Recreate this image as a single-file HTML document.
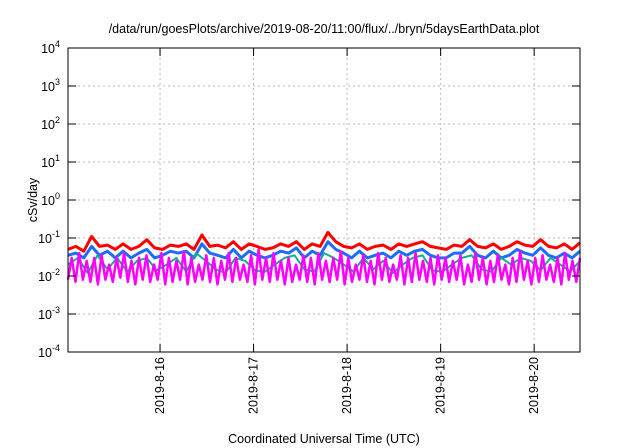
<!DOCTYPE html>
<html><head><meta charset="utf-8"><style>
body{margin:0;background:#fff;}
svg{display:block;font-family:"Liberation Sans",sans-serif;}
</style></head><body>
<svg id="chart" width="640" height="448" viewBox="0 0 640 448">
<text x="324" y="33" font-size="12.5" text-anchor="middle">/data/run/goesPlots/archive/2019-08-20/11:00/flux/../bryn/5daysEarthData.plot</text>
<g id="grid"></g>
<g id="series"></g>
<rect x="68" y="48" width="512" height="304" fill="none" stroke="#000" stroke-width="1"/>
<g id="axes"></g>
<text transform="translate(37,200) rotate(-90)" font-size="12.5" text-anchor="middle">cSv/day</text>
<text x="324" y="443" font-size="12.5" text-anchor="middle">Coordinated Universal Time (UTC)</text>
</svg>
<script>
const yTickExps=[-4,-3,-2,-1,0,1,2,3,4];
const xTickDays=[1,2,3,4,5];
const xTickLabels=["2019-8-16","2019-8-17","2019-8-18","2019-8-19","2019-8-20"];
const redVals=[0.05,0.06,0.045,0.11,0.06,0.065,0.05,0.07,0.05,0.06,0.09,0.055,0.05,0.065,0.06,0.07,0.05,0.12,0.06,0.065,0.055,0.08,0.05,0.07,0.06,0.05,0.055,0.07,0.06,0.08,0.05,0.07,0.06,0.14,0.08,0.06,0.055,0.07,0.05,0.06,0.065,0.05,0.07,0.06,0.07,0.08,0.06,0.055,0.05,0.065,0.06,0.09,0.06,0.055,0.07,0.05,0.06,0.08,0.065,0.06,0.09,0.06,0.055,0.07,0.05,0.075];
const blueVals=[0.035,0.04,0.03,0.06,0.035,0.045,0.03,0.045,0.03,0.04,0.05,0.03,0.035,0.045,0.04,0.045,0.03,0.07,0.04,0.035,0.03,0.05,0.03,0.045,0.035,0.03,0.035,0.045,0.04,0.055,0.03,0.045,0.035,0.08,0.05,0.04,0.03,0.045,0.03,0.035,0.04,0.03,0.045,0.035,0.045,0.05,0.035,0.03,0.03,0.04,0.04,0.06,0.035,0.03,0.045,0.03,0.035,0.05,0.04,0.035,0.055,0.035,0.03,0.04,0.03,0.045];
const tealVals=[0.02,0.03,0.012,0.035,0.015,0.03,0.013,0.025,0.03,0.014,0.02,0.03,0.013,0.04,0.025,0.015,0.012,0.03,0.025,0.014,0.013,0.02,0.03,0.035,0.015,0.013,0.04,0.03,0.02,0.013,0.03,0.015,0.025,0.012,0.02,0.03,0.035,0.014,0.013,0.02,0.03,0.035,0.015,0.013,0.03,0.02,0.03,0.025,0.014,0.03,0.02,0.013,0.025];
const magentaVals=[0.008,0.03,0.007,0.04,0.008,0.025,0.007,0.03,0.006,0.035,0.008,0.02,0.007,0.03,0.009,0.04,0.007,0.025,0.006,0.03,0.008,0.035,0.007,0.02,0.008,0.04,0.006,0.03,0.007,0.025,0.008,0.045,0.006,0.03,0.007,0.02,0.008,0.035,0.007,0.03,0.006,0.025,0.008,0.04,0.007,0.03,0.008,0.02,0.007,0.035,0.006,0.05,0.008,0.03,0.007,0.04,0.008,0.025,0.006,0.03,0.007,0.02,0.008,0.035,0.007,0.03,0.006,0.04,0.008,0.025,0.007,0.03,0.008,0.045,0.006,0.03,0.007,0.02,0.008,0.035,0.007,0.025,0.006,0.04,0.008,0.03,0.007,0.02,0.008,0.035,0.006,0.03,0.007,0.04,0.008,0.025,0.007,0.03,0.006,0.035,0.008,0.03,0.007,0.025,0.008,0.035,0.006,0.02,0.007,0.04,0.008,0.03,0.006,0.025,0.007,0.035,0.008,0.02,0.006,0.03,0.007,0.045,0.008,0.025,0.006,0.03,0.007,0.035,0.008,0.02,0.007,0.03,0.006,0.04,0.008,0.025,0.007,0.03];
const X0=68,X1=580,Y0=48,Y1=352,DMIN=0.016,DMAX=5.49;
const xs=d=>X0+(d-DMIN)/(DMAX-DMIN)*(X1-X0);
const ys=v=>Y1-(Math.log10(v)+4)/8*(Y1-Y0);
const NS="http://www.w3.org/2000/svg";
const mk=(p,t,a)=>{const e=document.createElementNS(NS,t);for(const k in a)e.setAttribute(k,a[k]);p.appendChild(e);return e;};
const grid=document.getElementById('grid'),axes=document.getElementById('axes'),ser=document.getElementById('series');
yTickExps.forEach(ex=>{const y=ys(Math.pow(10,ex));
 if(ex>-4&&ex<4){const l=mk(grid,'line',{x1:X0,x2:X1,y1:y,y2:y,stroke:'#bbb','stroke-dasharray':'2,3'});
 
 const t1=mk(axes,'line',{x1:X0,x2:X0+8,y1:y,y2:y,stroke:'#000'});
 const t2=mk(axes,'line',{x1:X1-8,x2:X1,y1:y,y2:y,stroke:'#000'});}
 const t=mk(axes,'text',{x:60,y:y+5,'font-size':'12.5','text-anchor':'end'});
 
 t.innerHTML='10<tspan dy="-6" font-size="9">'+ex+'</tspan>';});
xTickDays.forEach((d,i)=>{const x=xs(d);
 const l=mk(grid,'line',{x1:x,x2:x,y1:Y0,y2:Y1,stroke:'#bbb','stroke-dasharray':'2,3'});
 
 const t1=mk(axes,'line',{x1:x,x2:x,y1:Y1-8,y2:Y1,stroke:'#000'});
 const t2=mk(axes,'line',{x1:x,x2:x,y1:Y0,y2:Y0+8,stroke:'#000'});
 const t=mk(axes,'text',{transform:`translate(${x+4},${Y1+62}) rotate(-90)`,'font-size':'12.5','text-anchor':'start'});
 
 t.textContent=xTickLabels[i];});
function line(vals,color,w,name){const n=vals.length;
 const pts=vals.map((v,i)=>xs(DMIN+(DMAX-DMIN)*i/(n-1)).toFixed(1)+','+ys(v).toFixed(1)).join(' ');
 const p=mk(ser,'polyline',{points:pts,fill:'none',stroke:color,'stroke-width':w,'stroke-linejoin':'round'});
 }
line(redVals,'#f00',3,'series-red');
line(blueVals,'#1e6cff',3,'series-blue');
line(tealVals,'#10b090',2,'series-teal');
line(magentaVals,'#f0f',2.5,'series-magenta');
</script>
</body></html>
